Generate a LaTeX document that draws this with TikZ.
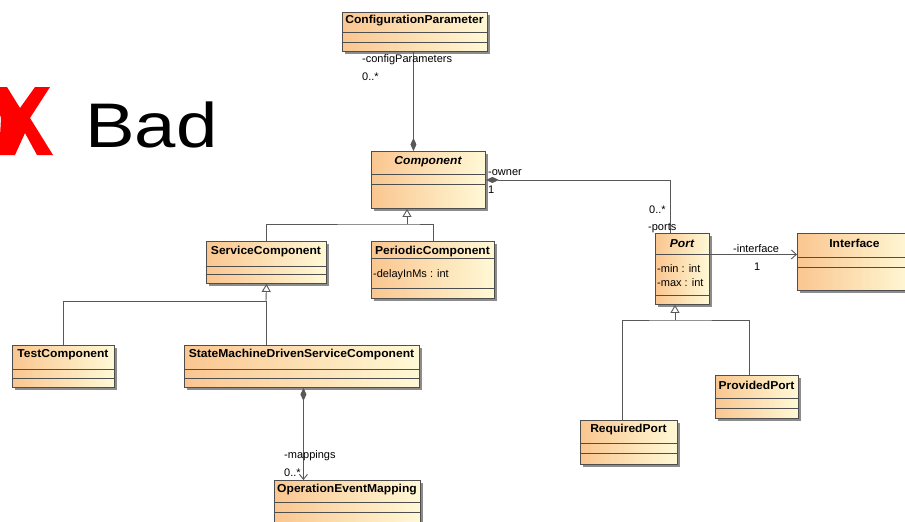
\documentclass[tikz,border=0pt]{standalone}
\usepackage{fontspec}
\setmainfont{Liberation Sans}
\usetikzlibrary{arrows.meta,shadows}
\definecolor{boxleft}{HTML}{FAC690}
\definecolor{boxright}{HTML}{FFF9D6}
\definecolor{edge}{HTML}{4E4E4E}
\definecolor{wirec}{HTML}{585858}
\definecolor{xred}{HTML}{FF0000}
\tikzset{
  classbox/.style={draw=edge, line width=0.9pt, left color=boxleft, right color=boxright,
    inner sep=0pt, anchor=north west,
    drop shadow={shadow xshift=2.5pt, shadow yshift=-2.5pt, fill=black!45, opacity=1}},
  sepline/.style={draw=edge, line width=0.9pt},
  cname/.style={font=\fontsize{11.5}{13}\selectfont\bfseries, inner sep=0pt, xscale=1.05},
  attr/.style={font=\fontsize{11}{13}\selectfont, inner sep=0pt, anchor=west},
  lbl/.style={font=\fontsize{11}{13}\selectfont, inner sep=0pt, anchor=west},
  wire/.style={draw=wirec, line width=0.9pt},
  gen/.style={wire, -{Triangle[open, length=8pt, width=9pt, fill=white]}},
  compo/.style={wire, -{Diamond[length=13pt, width=6pt, fill=wirec]}},
  nav/.style={wire, -{Straight Barb[length=5pt, width=9pt]}},
  compnav/.style={wire, {Diamond[length=13pt, width=6pt, fill=wirec]}-{Straight Barb[length=5pt, width=8pt]}}
}
% id, x, y, width, height, title centre y, separator 1, separator 2, title
\newcommand\umlclass[9]{%
  \node[classbox, minimum width=#4pt, minimum height=#5pt] (#1) at (#2,#3) {};
  \node[cname] (#1-name) at (#2+#4/2,#6) {#9};
  \draw[sepline] (#2,#7) -- (#2+#4,#7);
  \draw[sepline] (#2,#8) -- (#2+#4,#8);
}
\begin{document}
\begin{tikzpicture}[x=1pt, y=-1pt]
\useasboundingbox (0,0) rectangle (905,522);
\clip (0,0) rectangle (905,522);

% red cross and caption
\fill[xred] (7,87) -- (20,108) -- (35,87) -- (50,87) -- (30,118) -- (53,155) -- (37,155)
  -- (25,133) -- (15,155) -- (-1,155) -- (1,118) -- (-9,87) -- cycle;
\node[font=\fontsize{63}{70}\selectfont, anchor=base west, inner sep=0pt, xscale=1.18]
  (bad) at (85,147) {Bad};

% classes
\umlclass{cp}{342}{12}{145}{39}{21}{32}{42}{ConfigurationParameter}
\umlclass{comp}{371}{151}{114}{57}{162}{174}{184}{\itshape Component}
\umlclass{sc}{206}{241}{120}{42}{252}{266}{274}{ServiceComponent}
\umlclass{pc}{371}{241}{123}{57}{252}{258}{288}{PeriodicComponent}
\node[attr] at (373,275) {-delayInMs : int};
\umlclass{port}{655}{233}{54}{71}{244}{254}{295}{\itshape Port}
\node[attr] at (657,269) {-min : int};
\node[attr] at (657,283) {-max : int};
\umlclass{iface}{797}{233}{115}{57}{243}{257}{267}{Interface}
\umlclass{tc}{12}{345}{102}{42}{355}{369}{378}{TestComponent}
\umlclass{smd}{184}{345}{235}{42}{355}{369}{378}{StateMachineDrivenServiceComponent}
\umlclass{oem}{274}{480}{146}{50}{490}{502}{512}{OperationEventMapping}
\umlclass{rp}{580}{420}{97}{44}{430}{443}{453}{RequiredPort}
\umlclass{pp}{715}{375}{83}{43}{385}{398}{408}{ProvidedPort}

% configuration parameters
\draw[compo] ([xshift=-1.5pt]cp.south) -- ([xshift=-1.5pt]cp.south |- comp.north);
\node[lbl] at (362,60) {-configParameters};
\node[lbl] at (362,77) {0..*};

% owner / ports
\draw[compo] ([xshift=-12pt]port.north) |- (comp.east);
\node[lbl] at (488,173) {-owner};
\node[lbl] at (488,190) {1};
\node[lbl] at (649,210) {0..*};
\node[lbl] at (648,228) {-ports};

% port -> interface
\coordinate (ifc) at ([yshift=7.5pt]iface.west);
\draw[nav] (port.east |- ifc) -- (ifc);
\node[lbl] at (733,249) {-interface};
\node[lbl] at (754,267) {1};

% component generalization
\coordinate (j1) at (407,224);
\draw[wire] (sc.north) |- (j1) -| (pc.north);
\draw[gen] (j1) -- (j1 |- comp.south);

% service component generalization
\coordinate (j2) at (266,301);
\draw[wire] (tc.north) |- (j2) -- (j2 |- smd.north);
\draw[gen] (j2) -- (sc.south);

% port generalization
\coordinate (j3) at (675,320);
\draw[wire] ([xshift=-6.5pt]rp.north) |- (j3) -| ([xshift=-7.5pt]pp.north);
\draw[gen] (j3) -- (j3 |- port.south);

% mappings
\draw[compnav] ([xshift=1.5pt]smd.south) -- ([xshift=1.5pt]smd.south |- oem.north);
\node[lbl] at (284,456) {-mappings};
\node[lbl] at (284,473) {0..*};
\end{tikzpicture}
\end{document}
